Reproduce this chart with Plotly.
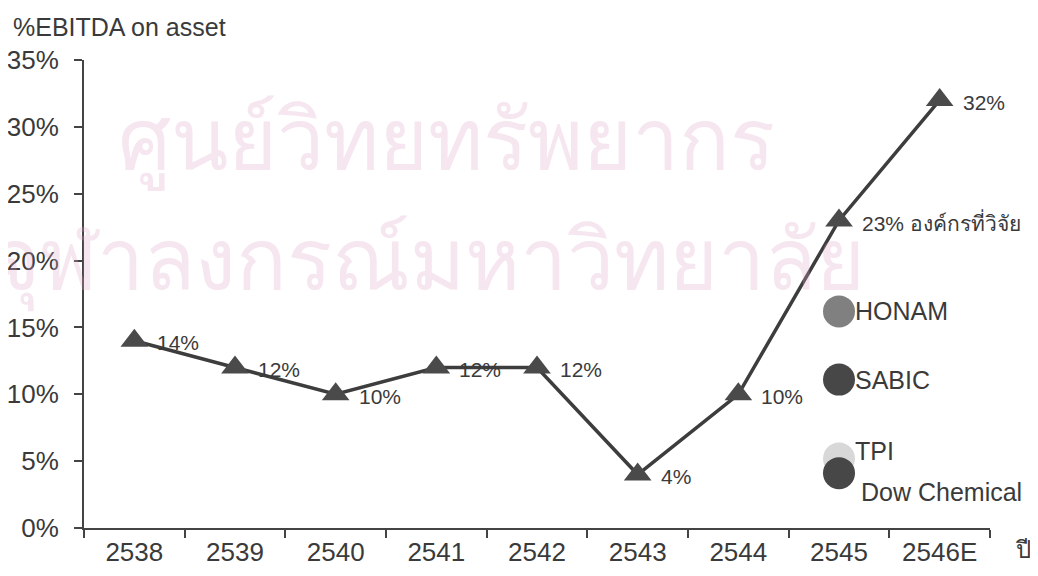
import plotly.graph_objects as go

years = ["2538", "2539", "2540", "2541", "2542", "2543", "2544", "2545", "2546E"]
ebitda = [14, 12, 10, 12, 12, 4, 10, 23, 32]
label_suffix = ["", "", "", "", "", "", "", " องค์กรที่วิจัย", ""]

peer_names = ["HONAM", "SABIC", "TPI", "Dow Chemical"]
peer_values = [16.2, 11.1, 5.2, 4.1]
peer_year = "2545"

y_ticks = [0, 5, 10, 15, 20, 25, 30, 35]
y_tick_text = [f"{v}%" for v in y_ticks]

FONT = "Liberation Sans, Arial, sans-serif"
TXT = "#3a3a3a"

fig = go.Figure()

# watermark (drawn first among annotations)
wm = "rgba(218,165,198,0.28)"
fig.add_annotation(xref="paper", yref="paper", x=0.40, y=0.964,
                   text="ศูนย์วิทยทรัพยากร", showarrow=False,
                   font=dict(size=84, color=wm))
fig.add_annotation(xref="paper", yref="paper", x=0.38, y=0.707,
                   text="จุฬาลงกรณ์มหาวิทยาลัย", showarrow=False,
                   font=dict(size=84, color=wm))

fig.add_trace(go.Scatter(
    x=years, y=ebitda, mode="lines+markers",
    line=dict(color="#3d3d3d", width=3.5),
    marker=dict(symbol="triangle-up", size=24, color="#4a4a4a",
                line=dict(width=0)),
    showlegend=False, cliponaxis=False,
))

peer_colors = ["#808080", "#474747", "#d8d8d8", "#474747"]
fig.add_trace(go.Scatter(
    x=[peer_year] * len(peer_values), y=peer_values,
    mode="markers",
    marker=dict(symbol="circle", size=32, color=peer_colors,
                line=dict(width=0)),
    showlegend=False, cliponaxis=False,
))

# data labels
for i, (v, s) in enumerate(zip(ebitda, label_suffix)):
    fig.add_annotation(x=i, y=v, xref="x", yref="y", text=f"{v}%{s}",
                       showarrow=False, xanchor="left", yanchor="middle",
                       xshift=21, yshift=-2,
                       font=dict(family=FONT, size=21, color=TXT))

# peer labels (category index of the peer year on the category axis)
peer_idx = years.index(peer_year)
peer_offsets = [(14, 0), (14, 0), (14, 7), (20, -19)]
for name, val, (dx, dy) in zip(peer_names, peer_values, peer_offsets):
    fig.add_annotation(x=peer_idx, y=val, xref="x", yref="y", text=name,
                       showarrow=False, xanchor="left", yanchor="middle",
                       xshift=dx, yshift=dy,
                       font=dict(family=FONT, size=25, color=TXT))

fig.add_annotation(xref="paper", yref="paper", x=-0.081, y=1.07,
                   text="%EBITDA on asset", showarrow=False,
                   xanchor="left", yanchor="middle",
                   font=dict(family=FONT, size=25, color=TXT))
fig.add_annotation(xref="paper", yref="paper", x=1.025, y=-0.045,
                   text="ปี", showarrow=False,
                   xanchor="left", yanchor="middle",
                   font=dict(family=FONT, size=24, color=TXT))

fig.update_xaxes(
    type="category", range=[-0.5, 8.5], tickson="boundaries",
    ticks="outside", ticklen=8, tickwidth=2, tickcolor="#444",
    showline=True, linecolor="#444", linewidth=2,
    showgrid=False, zeroline=False, automargin=False,
    tickfont=dict(family=FONT, size=26, color=TXT),
)
fig.update_yaxes(
    range=[0, 35], tickvals=y_ticks, ticktext=y_tick_text,
    ticks="outside", ticklen=8, tickwidth=2, tickcolor="#444",
    showline=True, linecolor="#444", linewidth=2,
    showgrid=False, zeroline=False, ticklabelstandoff=10, automargin=False,
    tickfont=dict(family=FONT, size=26, color=TXT),
)

# page body has an 8px margin, so the figure is shifted by 8px
fig.update_layout(
    width=1030, height=568,
    margin=dict(l=76, r=48, t=52, b=48),
    paper_bgcolor="white", plot_bgcolor="white",
)

fig.write_html("out.html")
